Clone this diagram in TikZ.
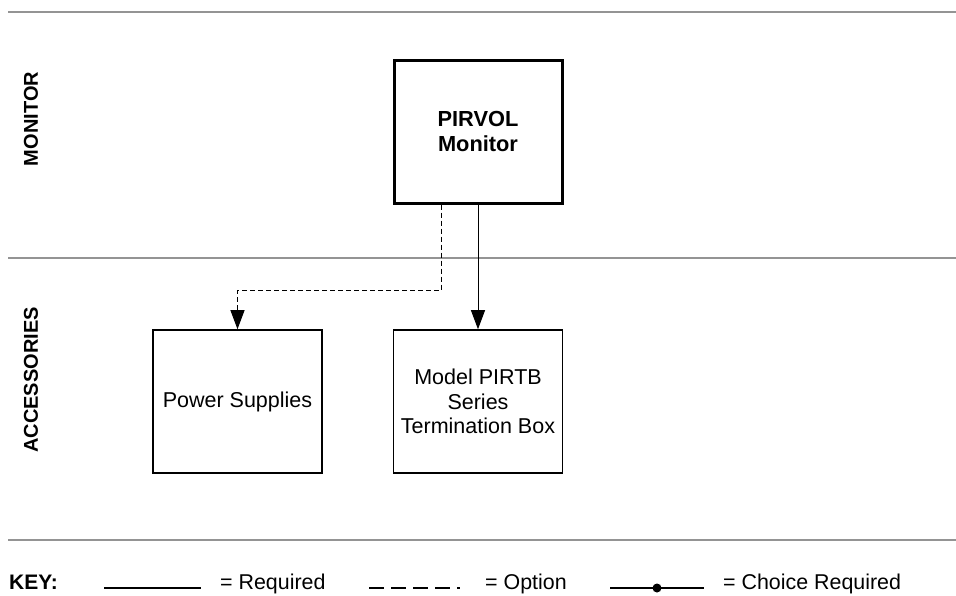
\documentclass[tikz,border=0pt]{standalone}
\usepackage{fontspec}
\setmainfont{Liberation Sans}
\usetikzlibrary{arrows.meta}

\begin{document}
\begin{tikzpicture}[
      x=1pt, y=-1pt,
      divider/.style={draw=black!42, line width=2pt},
      lane/.style={rotate=90, font=\fontsize{20}{24}\selectfont\bfseries},
      monitorbox/.style={draw, line width=3pt, minimum width=168pt, minimum height=143pt,
                         align=center, font=\fontsize{21.8}{24.5}\selectfont\bfseries},
      accessory/.style={draw, line width=1.6pt, minimum width=169pt, minimum height=143pt,
                        align=center, font=\fontsize{21.5}{24.5}\selectfont},
      required/.style={draw, line width=1pt, -{Triangle[length=19pt,width=14pt]}},
      option/.style={draw, line width=1pt, dash pattern=on 5pt off 3pt, -{Triangle[length=19pt,width=14pt]}},
      keytext/.style={anchor=base west, inner sep=0pt, font=\fontsize{21.4}{24}\selectfont},
  ]
    \useasboundingbox (0,0) rectangle (956,595);

    % lanes
    \draw[divider] (8,11.5) -- (956,11.5);
    \draw[divider] (8,257.5) -- (956,257.5);
    \draw[divider] (8,539.5) -- (956,539.5);
    \node[lane] (monlane) at (31,119) {MONITOR};
    \node[lane] (acclane) at (31,380) {ACCESSORIES};

    % boxes
    \node[monitorbox] (pirvol) at (478,131.5) {PIRVOL\\Monitor};
    \node[accessory] (powerbox) at (237.5,401.5) {Power Supplies};
    \node[accessory] (termbox) at (478,401.5) {Model PIRTB\\Series\\Termination Box};

    % connectors
    \coordinate (optbend) at (441,290);
    \draw[required] (pirvol.south) -- (termbox.north);
    \draw[option] (pirvol.south -| optbend) -- (optbend) -| (powerbox.north);

    % key
    \node[keytext, font=\fontsize{21}{24}\selectfont\bfseries] (keylabel) at (9,589) {KEY:};
    \coordinate (reqa) at (104,588);
    \coordinate (reqb) at (201,588);
    \draw[line width=1.2pt] (reqa) -- (reqb);
    \node[keytext] (reqtext) at (220,589) {= Required};
    \coordinate (opta) at (369,588);
    \coordinate (optb) at (466,588);
    \draw[line width=1.2pt, dash pattern=on 15pt off 7pt on 15pt off 7pt on 15pt off 7pt on 15pt off 7pt on 3pt off 20pt] (opta) -- (optb);
    \node[keytext] (opttext) at (485,589) {= Option};
    \coordinate (choa) at (610,588);
    \coordinate (chob) at (704,588);
    \coordinate (chodot) at (657,588);
    \draw[line width=1.2pt] (choa) -- (chob);
    \fill (chodot) circle (4.5pt);
    \node[keytext] (chotext) at (723,589) {= Choice Required};
  \end{tikzpicture}
\end{document}
